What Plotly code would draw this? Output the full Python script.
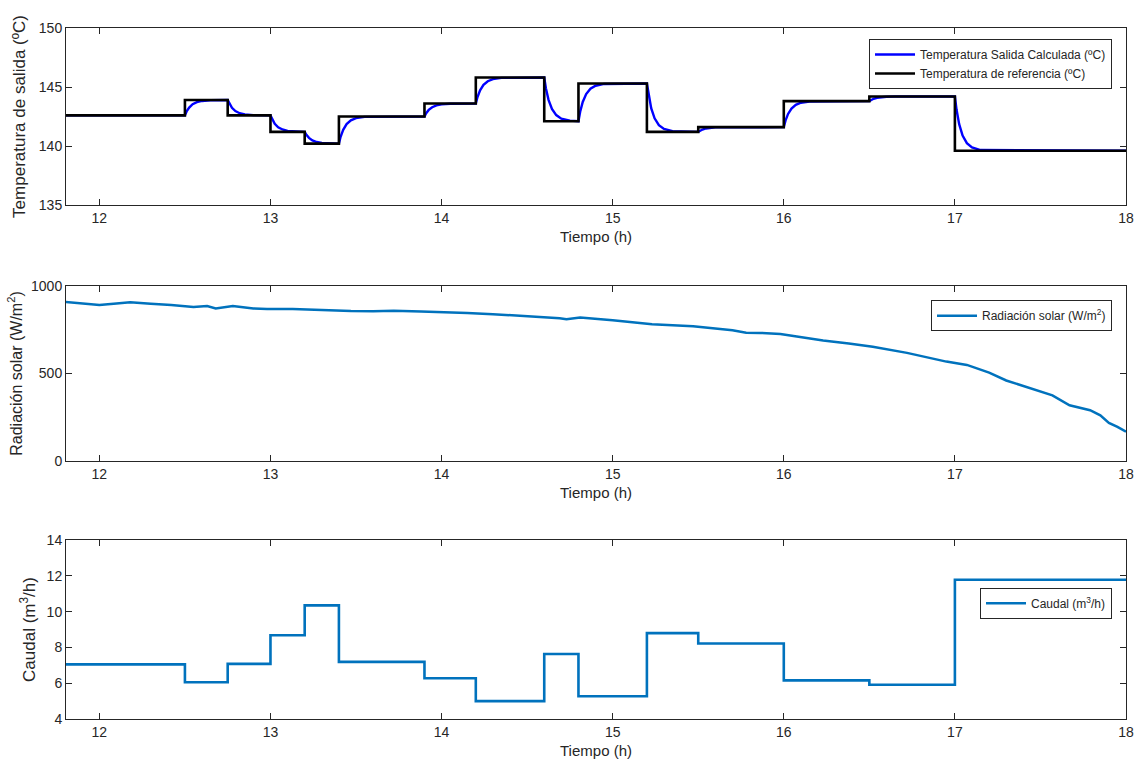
import plotly.graph_objects as go

# ---------------- data ----------------
# Reference temperature (step changes)
ref_t = [11.8, 12.5, 12.75, 13.0, 13.2, 13.4, 13.9, 14.2, 14.6, 14.8, 15.2, 15.5, 16.0, 16.5, 17.0, 18.0]
ref_v = [142.6, 143.9, 142.6, 141.2, 140.2, 142.5, 143.6, 145.8, 142.1, 145.3, 141.2, 141.6, 143.8, 144.2, 139.6, 139.6]

# Calculated outlet temperature
blue_t = [11.8,
          12.5, 12.51, 12.525, 12.545, 12.57, 12.6, 12.65,
          12.75, 12.76, 12.775, 12.795, 12.82, 12.85, 12.9,
          13.0, 13.01, 13.025, 13.045, 13.07, 13.1, 13.15,
          13.2, 13.21, 13.225, 13.245, 13.27, 13.3, 13.35,
          13.4, 13.41, 13.425, 13.445, 13.47, 13.5, 13.55,
          13.9, 13.91, 13.925, 13.945, 13.97, 14.0, 14.05,
          14.2, 14.21, 14.225, 14.245, 14.27, 14.3, 14.35,
          14.6, 14.61, 14.625, 14.645, 14.67, 14.7, 14.75,
          14.8, 14.81, 14.825, 14.845, 14.87, 14.9, 14.95,
          15.2, 15.21, 15.225, 15.245, 15.27, 15.3, 15.35,
          15.5, 15.51, 15.525, 15.545, 15.57, 15.6, 15.65,
          16.0, 16.01, 16.025, 16.045, 16.07, 16.1, 16.15,
          16.5, 16.51, 16.525, 16.545, 16.57, 16.6, 16.65,
          17.0, 17.01, 17.025, 17.045, 17.07, 17.1, 17.15,
          18.0]
blue_v = [142.6,
          142.6, 142.93, 143.26, 143.54, 143.72, 143.82, 143.88,
          143.9, 143.58, 143.24, 142.96, 142.78, 142.68, 142.62,
          142.6, 142.25, 141.89, 141.59, 141.40, 141.28, 141.22,
          141.2, 140.95, 140.69, 140.48, 140.34, 140.26, 140.21,
          140.2, 140.78, 141.37, 141.86, 142.18, 142.36, 142.47,
          142.5, 142.78, 143.06, 143.29, 143.45, 143.53, 143.58,
          143.6, 144.15, 144.72, 145.18, 145.49, 145.67, 145.77,
          145.8, 144.88, 143.91, 143.14, 142.62, 142.32, 142.15,
          142.1, 142.90, 143.73, 144.40, 144.85, 145.11, 145.26,
          145.3, 144.28, 143.21, 142.35, 141.77, 141.45, 141.26,
          141.2, 141.30, 141.40, 141.49, 141.54, 141.58, 141.59,
          141.6, 142.15, 142.72, 143.18, 143.49, 143.67, 143.77,
          143.8, 143.90, 144.00, 144.09, 144.14, 144.18, 144.19,
          144.2, 143.05, 141.85, 140.89, 140.24, 139.88, 139.66,
          139.6]

# Solar radiation
rad_t = [11.8, 11.9, 12.0, 12.1, 12.18, 12.3, 12.42, 12.55, 12.63, 12.68,
         12.78, 12.9, 12.98, 13.13, 13.3, 13.47, 13.6, 13.72, 13.88, 13.99,
         14.15, 14.3, 14.5, 14.69, 14.73, 14.81, 15.0, 15.23, 15.47, 15.7,
         15.78, 15.86, 15.98, 16.1, 16.23, 16.38, 16.52, 16.72, 16.93, 16.95,
         17.07, 17.2, 17.3, 17.45, 17.57, 17.67, 17.79, 17.85, 17.9, 17.95, 18.0]
rad_v = [909, 900, 892, 900, 907, 899, 892, 880, 886, 872,
         886, 872, 868, 868, 862, 857, 856, 858, 854, 852,
         846, 839, 829, 816, 810, 820, 804, 781, 770, 747,
         733, 732, 726, 708, 688, 672, 653, 618, 574, 568,
         549, 505, 460, 415, 375, 318, 290, 261, 218, 195, 167]

# Flow rate
flow_t = [11.8, 12.5, 12.75, 13.0, 13.2, 13.4, 13.9, 14.2, 14.6, 14.8, 15.2, 15.5, 16.0, 16.5, 17.0, 18.0]
flow_v = [7.05, 6.05, 7.08, 8.68, 10.35, 7.19, 6.28, 5.0, 7.63, 5.27, 8.8, 8.22, 6.16, 5.91, 11.78, 11.82]

x_ticks = [12, 13, 14, 15, 16, 17, 18]

# ---------------- figure ----------------
FONT = "Liberation Sans, Arial, Helvetica, sans-serif"
TXT = "#262626"
MB = "#0072BD"

fig = go.Figure()
fig.add_trace(go.Scatter(x=blue_t, y=blue_v, mode="lines", name="Temperatura Salida Calculada (ºC)",
                         line=dict(color="#0000FF", width=2.4), xaxis="x", yaxis="y", legend="legend"))
fig.add_trace(go.Scatter(x=ref_t, y=ref_v, mode="lines", line_shape="hv", name="Temperatura de referencia (ºC)",
                         line=dict(color="#000000", width=2.6), xaxis="x", yaxis="y", legend="legend"))
fig.add_trace(go.Scatter(x=rad_t, y=rad_v, mode="lines", name="Radiación solar (W/m<sup>2</sup>)",
                         line=dict(color=MB, width=2.5), xaxis="x2", yaxis="y2", legend="legend2"))
fig.add_trace(go.Scatter(x=flow_t, y=flow_v, mode="lines", line_shape="hv", name="Caudal (m<sup>3</sup>/h)",
                         line=dict(color=MB, width=2.6), xaxis="x3", yaxis="y3", legend="legend3"))

xcommon = dict(range=[11.805, 18], tickvals=x_ticks, ticks="inside", ticklen=6, tickcolor=TXT,
               showline=True, linecolor=TXT, linewidth=1, mirror="ticks", showgrid=False, zeroline=False,
               automargin=False,
               tickfont=dict(size=14, color=TXT, family=FONT),
               title=dict(text="Tiempo (h)", font=dict(size=15, color=TXT, family=FONT), standoff=6))
ycommon = dict(ticks="inside", ticklen=6, tickcolor=TXT, showline=True, linecolor=TXT, linewidth=1,
               mirror="ticks", showgrid=False, zeroline=False, automargin=False,
               tickfont=dict(size=14, color=TXT, family=FONT))

dom1 = [0.7438, 1.0]
dom2 = [0.3734, 0.6266]
dom3 = [0.0, 0.259]

fig.update_layout(
    width=1141, height=773,
    margin=dict(l=66, r=15, t=28, b=54),
    paper_bgcolor="white", plot_bgcolor="white",
    font=dict(family=FONT, color=TXT),
    xaxis=dict(xcommon, domain=[0, 1], anchor="y"),
    xaxis2=dict(xcommon, domain=[0, 1], anchor="y2"),
    xaxis3=dict(xcommon, domain=[0, 1], anchor="y3"),
    yaxis=dict(ycommon, domain=dom1, anchor="x", range=[135, 150], tickvals=[135, 140, 145, 150],
               title=dict(text="Temperatura de salida (ºC)", font=dict(size=17, color=TXT, family=FONT), standoff=8)),
    yaxis2=dict(ycommon, domain=dom2, anchor="x2", range=[0, 1000], tickvals=[0, 500, 1000],
                title=dict(text="Radiación solar (W/m<sup>2</sup>)", font=dict(size=16, color=TXT, family=FONT), standoff=4)),
    yaxis3=dict(ycommon, domain=dom3, anchor="x3", range=[4, 14], tickvals=[4, 6, 8, 10, 12, 14],
                title=dict(text="Caudal (m<sup>3</sup>/h)", font=dict(size=17, color=TXT, family=FONT), standoff=6)),
    legend=dict(x=0.9868, y=0.984, xanchor="right", yanchor="top", bgcolor="white",
                bordercolor=TXT, borderwidth=1, font=dict(size=12, color=TXT, family=FONT),
                tracegroupgap=0, itemwidth=40),
    legend2=dict(x=0.9868, y=0.606, xanchor="right", yanchor="top", bgcolor="white",
                 bordercolor=TXT, borderwidth=1, font=dict(size=12, color=TXT, family=FONT), itemwidth=40),
    legend3=dict(x=0.9868, y=0.19, xanchor="right", yanchor="top", bgcolor="white",
                 bordercolor=TXT, borderwidth=1, font=dict(size=12, color=TXT, family=FONT), itemwidth=40),
)

fig.write_html("out.html", config={"displayModeBar": False},
               post_script="document.body.style.margin='0';document.body.style.overflow='hidden';")
